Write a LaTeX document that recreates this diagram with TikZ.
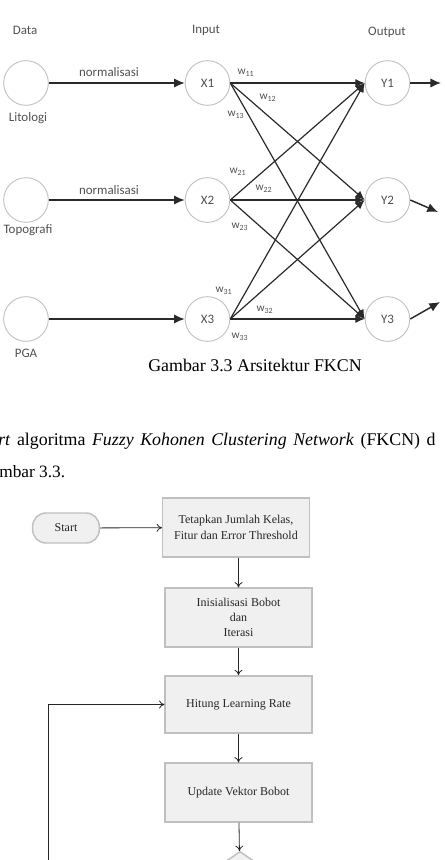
\documentclass[tikz,border=0pt]{standalone}
\usepackage{fontspec}
\setmainfont{Liberation Serif}
\newfontfamily\calibri{Carlito}
\usetikzlibrary{arrows.meta,shapes.geometric}

\definecolor{ringgray}{HTML}{C2C2C2}
\definecolor{labgray}{HTML}{505050}
\definecolor{wiregray}{HTML}{2A2A2A}
\definecolor{boxfill}{HTML}{F0F0F0}
\definecolor{boxline}{HTML}{C0C0C0}

\tikzset{
  neuron/.style={circle, draw=ringgray, line width=0.7pt, minimum size=33.5pt, inner sep=0pt,
    font=\calibri\fontsize{9.7}{11}\selectfont, text=labgray},
  lbl/.style={font=\calibri\fontsize{9.7}{11}\selectfont, text=labgray, inner sep=0pt},
  wlbl/.style={font=\calibri\fontsize{8.5}{9}\selectfont, text=labgray, inner sep=0pt},
  wire/.style={draw=wiregray, line width=1.1pt, -{Latex[length=8pt,width=7pt]}},
  cross/.style={draw=wiregray, line width=0.9pt, -{Latex[length=7pt,width=6pt]}},
  flowbox/.style={rectangle, draw=boxline, fill=boxfill, line width=1.1pt, minimum width=110pt,
    minimum height=44pt, align=center, font=\fontsize{9}{11}\selectfont, text=black!85},
  terminal/.style={rectangle, rounded corners=10pt, draw=boxline, fill=boxfill, line width=1.1pt,
    minimum width=50pt, minimum height=22.5pt, font=\fontsize{9}{11}\selectfont, text=black!85},
  decision/.style={diamond, draw=boxline, fill=boxfill, line width=1.1pt, minimum width=75pt,
    minimum height=52pt, inner sep=0pt},
  flowarrow/.style={draw=black!85, line width=0.6pt, -{To[length=4pt,width=6pt]}}
}

\begin{document}
\begin{tikzpicture}[x=0.75pt,y=-0.75pt]
  \useasboundingbox (0,0) rectangle (444,860);
  \clip (0,0) rectangle (444,860);

  % arsitektur FKCN
  \node[lbl] (hdata) at (25,30) {Data};
  \node[lbl] (hinput) at (206,30) {Input};
  \node[lbl] (houtput) at (387,32) {Output};

  \node[neuron] (D1) at (26,83) {};
  \node[neuron] (D2) at (26,200) {};
  \node[neuron] (D3) at (26,319) {};
  \node[lbl] (litologi) at (28,118) {Litologi};
  \node[lbl] (topografi) at (28,230) {Topografi};
  \node[lbl] (pga) at (26,353) {PGA};

  \foreach \i/\y in {1/83,2/200,3/319}{
    \node[neuron] (X\i) at (207.5,\y) {X\i};
    \node[neuron] (Y\i) at (387.5,\y) {Y\i};
    \draw[wire] (D\i) -- (X\i);
  }
  \node[lbl] (norm1) at (109,72) {normalisasi};
  \node[lbl] (norm2) at (109,190) {normalisasi};

  \foreach \i in {1,2,3}{
    \foreach \j in {1,2,3}{
      \draw[cross] (X\i.east) -- (Y\j.west);
    }
  }

  % bobot
  \node[wlbl] (w11) at (246,73) {w\textsubscript{11}};
  \node[wlbl] (w12) at (268,98) {w\textsubscript{12}};
  \node[wlbl] (w13) at (236,115) {w\textsubscript{13}};
  \node[wlbl] (w21) at (238,172) {w\textsubscript{21}};
  \node[wlbl] (w22) at (264,189) {w\textsubscript{22}};
  \node[wlbl] (w23) at (240,227) {w\textsubscript{23}};
  \node[wlbl] (w31) at (224,291) {w\textsubscript{31}};
  \node[wlbl] (w32) at (265,310) {w\textsubscript{32}};
  \node[wlbl] (w33) at (240,337) {w\textsubscript{33}};

  \coordinate (o1) at (441,83);
  \coordinate (o2) at (438,212);
  \coordinate (o3) at (440,302);
  \draw[wire] (Y1.east) -- (o1);
  \draw[wire] (Y2.east) -- (o2);
  \draw[wire] (Y3.east) -- (o3);

  % teks halaman
  \node[font=\fontsize{13.4}{16}\selectfont, inner sep=0pt] (caption) at (255,365) {Gambar 3.3 Arsitektur FKCN};
  \node[anchor=west, font=\fontsize{13.4}{16}\selectfont, inner sep=0pt] (par1) at (-2,441)
    {\makebox[328pt][s]{\textit{rt} algoritma \textit{Fuzzy Kohonen Clustering Network} (FKCN) d}};
  \node[anchor=west, font=\fontsize{13}{16}\selectfont, inner sep=0pt] (par2) at (-1,472) {mbar 3.3.};

  % flowchart
  \node[terminal] (start) at (66,528) {Start};
  \node[flowbox] (tetap) at (236,527.5) {Tetapkan Jumlah Kelas,\\[1.5pt]Fitur dan Error Threshold};
  \node[flowbox] (inisial) at (238.5,617.5) {Inisialisasi Bobot\\dan\\Iterasi};
  \node[flowbox, minimum height=43pt] (hitung) at (238.5,704.5) {Hitung Learning Rate};
  \node[flowbox] (update) at (238.5,792.5) {Update Vektor Bobot};
  \node[decision] (cek) at (240,886) {};
  \coordinate (balik) at (48,880);

  \draw[flowarrow] (start) -- (tetap);
  \draw[flowarrow] (tetap.south -| inisial.north) -- (inisial.north);
  \draw[flowarrow] (inisial) -- (hitung);
  \draw[flowarrow] (hitung) -- (update);
  \draw[flowarrow] (update) -- (cek);
  \draw[flowarrow] (balik) |- (hitung.west);
\end{tikzpicture}
\end{document}
